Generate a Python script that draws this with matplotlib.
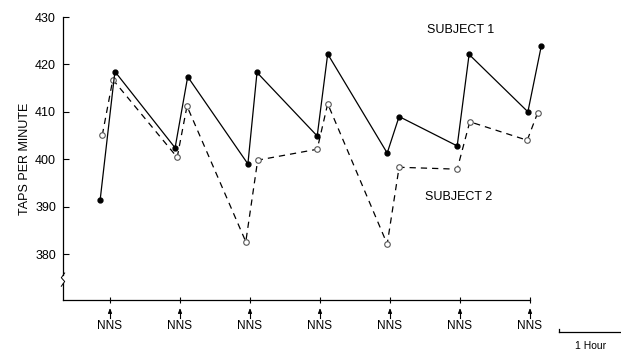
import numpy as np
import matplotlib.pyplot as plt
from matplotlib.transforms import blended_transform_factory

plt.rcParams['font.family'] = ['Liberation Sans', 'DejaVu Sans']

# time in hours after first NNS, taps per minute
s1_t = [-0.14, 0.07, 0.93, 1.11, 1.97, 2.10, 2.96, 3.11, 3.96, 4.13, 4.96, 5.13, 5.97, 6.16]
s1_y = [391.5, 418.5, 402.4, 417.4, 399.0, 418.3, 404.9, 422.2, 401.3, 409.0, 402.8, 422.1, 410.0, 423.8]
s2_t = [-0.11, 0.04, 0.96, 1.10, 1.94, 2.11, 2.96, 3.11, 3.96, 4.13, 4.96, 5.14, 5.96, 6.11]
s2_y = [405.1, 416.8, 400.4, 411.2, 382.6, 399.8, 402.1, 411.7, 382.1, 398.3, 397.9, 407.9, 404.0, 409.8]
nns_t = [0, 1, 2, 3, 4, 5, 6]
yticks = [380, 390, 400, 410, 420, 430]

fig = plt.figure(figsize=(6.21, 3.51), dpi=100)
ax = fig.add_axes([63/621, 1 - 300/351, (621 - 63)/621, 283/351])
ax.set_xlim(-47/70, (621 - 110)/70)
ax.set_ylim(370.3, 430)

ax.plot(s2_t, s2_y, color='black', lw=0.9, ls=(0, (5, 4)), marker='o', ms=4,
        mfc='white', mec='#555555', mew=0.8, clip_on=False)
ax.plot(s1_t, s1_y, color='black', lw=0.9, marker='o', ms=3.5, clip_on=False)

for s in ['top', 'right']:
    ax.spines[s].set_visible(False)
ax.spines['bottom'].set_bounds(-47/70, 6)
ax.spines['left'].set_bounds(375.6, 430)
ax.spines['left'].set_linewidth(0.9)
ax.spines['bottom'].set_linewidth(0.9)

ax.set_yticks(yticks)
ax.tick_params(axis='y', direction='in', length=4, width=0.8, labelsize=9, pad=5)
ax.set_xticks(nns_t)
ax.set_xticklabels([])
ax.tick_params(axis='x', direction='inout', length=5, width=0.8)

# y axis break
tb = blended_transform_factory(ax.transAxes, ax.transData)
ax.plot([0, 0], [370.3, 373.9], color='black', lw=0.9, transform=tb, clip_on=False)
ax.plot([-0.003, 0.003, -0.003, 0.003], [373.2, 374.2, 375.0, 376.0], color='black',
        lw=0.7, transform=tb, clip_on=False)

ax.set_ylabel('TAPS PER MINUTE', fontsize=9, labelpad=3)

# NNS arrows
tx = blended_transform_factory(ax.transData, ax.transAxes)
for t in nns_t:
    ax.plot([t, t], [-0.036, -0.062], color='black', lw=0.8, transform=tx, clip_on=False)
    ax.annotate('', xy=(t, -0.029), xytext=(t, -0.04), xycoords=tx, textcoords=tx,
                arrowprops=dict(arrowstyle='-|>,head_length=0.3,head_width=0.12', lw=0.6,
                                color='black', shrinkA=0, shrinkB=0))
    ax.text(t, -0.092, 'NNS', transform=tx, ha='center', va='center', fontsize=8.5)

# 1 hour scale bar
ax.plot([6.41, 7.3], [-0.113, -0.113], color='black', lw=0.9, transform=tx, clip_on=False)
ax.plot([6.41, 6.41], [-0.113, -0.102], color='black', lw=0.9, transform=tx, clip_on=False)
ax.text(6.86, -0.145, '1 Hour', transform=tx, ha='center', va='top', fontsize=7.5)

ax.text(5.01, 427.3, 'SUBJECT 1', fontsize=9, ha='center', va='center')
ax.text(4.98, 392.1, 'SUBJECT 2', fontsize=9, ha='center', va='center')

fig.savefig('out.png', dpi=100)
